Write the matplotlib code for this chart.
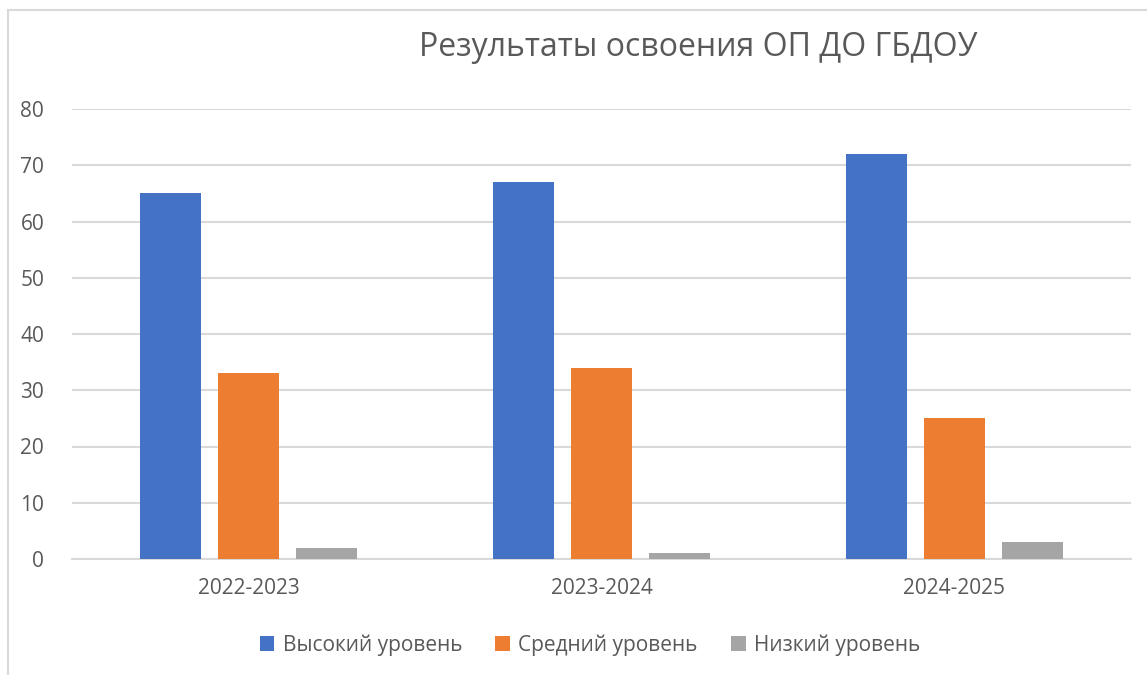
import numpy as np
import matplotlib.pyplot as plt
from matplotlib.lines import Line2D

plt.rcParams['font.family'] = ['Open Sans', 'DejaVu Sans']

# data
years = ["2022-2023", "2023-2024", "2024-2025"]
high = [65, 67, 72]
medium = [33, 34, 25]
low = [2, 1, 3]
series_names = ["Высокий уровень", "Средний уровень", "Низкий уровень"]
colors = ["#4472C4", "#ED7D31", "#A5A5A5"]

W, H = 1147, 675
fig = plt.figure(figsize=(W / 100, H / 100), dpi=100)
ax = fig.add_axes([72 / W, 1 - 559 / H, (1131 - 72) / W, 450 / H])

x = np.arange(len(years))
bw = 0.173
step = 0.221
for i, (vals, name, c) in enumerate(zip([high, medium, low], series_names, colors)):
    ax.bar(x + (i - 1) * step, vals, width=bw, color=c, label=name, zorder=3)

ax.set_xlim(-0.5, 2.5)
ax.set_ylim(0, 80)
ax.set_yticks(range(0, 81, 10))
ax.set_xticks(x)
ax.set_xticklabels(years)
ax.grid(axis='y', color='#D9D9D9', linewidth=1.5, zorder=0)
for s in ['top', 'right', 'left']:
    ax.spines[s].set_visible(False)
ax.spines['bottom'].set_color('#D9D9D9')
ax.spines['bottom'].set_linewidth(1.5)
ax.tick_params(axis='both', length=0, labelsize=15, labelcolor='#595959')
ax.tick_params(axis='y', pad=20)
ax.tick_params(axis='x', pad=14)

fig.text(698 / W, 1 - 47 / H, "Результаты освоения ОП ДО ГБДОУ",
         ha='center', va='center', fontsize=23, color='#595959')

# chart border (Excel frame, cut off at right/bottom)
fig.add_artist(Line2D([8 / W, 1], [1 - 10 / H, 1 - 10 / H], transform=fig.transFigure,
                      color='#D9D9D9', linewidth=1.5))
fig.add_artist(Line2D([8 / W, 8 / W], [0, 1 - 10 / H], transform=fig.transFigure,
                      color='#D9D9D9', linewidth=1.5))

fig.legend(loc='center', bbox_to_anchor=(590 / W, 1 - 645 / H), ncol=3, frameon=False,
           fontsize=15, labelcolor='#595959', handlelength=0.7, handleheight=0.7,
           handletextpad=0.4, columnspacing=1.6)

fig.savefig("out.png", dpi=100)
